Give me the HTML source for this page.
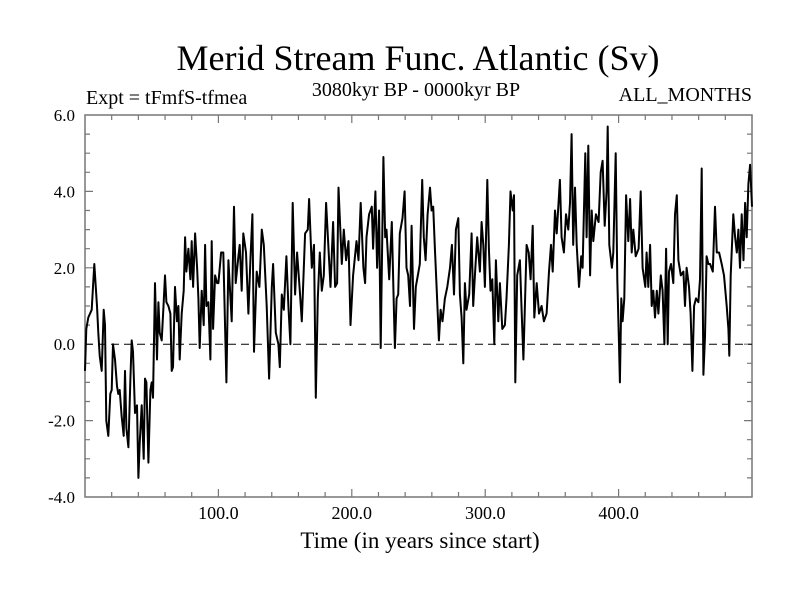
<!DOCTYPE html>
<html><head><meta charset="utf-8"><style>
body{margin:0;background:#fff}
svg{display:block;font-family:"Liberation Serif",serif}
</style></head><body>
<svg id="chart" width="800" height="600" viewBox="0 0 800 600">
<text x="418" y="70" font-size="36" text-anchor="middle">Merid Stream Func. Atlantic (Sv)</text>
<text x="86" y="104" font-size="20">Expt = tFmfS-tfmea</text>
<text x="416" y="96" font-size="20" text-anchor="middle">3080kyr BP - 0000kyr BP</text>
<text x="752" y="101" font-size="20" text-anchor="end">ALL_MONTHS</text>
<g id="axes"></g>
<g id="series"></g>
<text x="420" y="548" font-size="23" text-anchor="middle">Time (in years since start)</text>
</svg>
<script>
const years=[0,1,2.5,5,7,9,10,11,12.5,14,15,16,17.5,19,20,21,22.5,24,25,26,27.5,29,30,31,32.5,34,35,36,37.5,39,40,41,42.5,44,45,46,47.5,49,50,51,52.5,54,55,56,57.5,59,60,61,62.5,64,65,66,67.5,69,70,71,72.5,74,75,76,77.5,79,80,81,82.5,84,85,86,87.5,89,90,91,92.5,94,95,96,97.5,99,100,102,103.7,106,107.5,110,111.7,113,115,116,117.5,118.7,120.7,122.5,124,125.5,126.7,128.7,130.7,132.5,134,136.2,138,140,141,143,145,146,147.5,149,151,152.5,154,155.7,157.5,159,161,162.5,165,167,168,170,171.7,173,174.5,176,177.5,179,180.7,182.5,184,186,187.5,189,190,192.5,194,195.7,197.5,199,201,203.5,205,206.7,208.7,210,211,213,215,216,217.7,219,220.5,221.7,223.7,225,226,228,230,231.6,232.3,233.6,234.8,236,238,239.6,241,242.3,243.6,244.8,246.6,248,250,251,252.8,254,255.3,256.8,258.6,259.8,261,262.3,263.6,265.3,266.6,268,269.8,271.6,273.6,275,276.6,278,279.8,281,282.3,283.6,284.8,286,288,289.8,291,292.3,294,296,297.3,298.6,299.8,301.6,302.8,304,305.3,306.8,308,309.8,311,312.8,314.8,316,317.8,319,320.6,321.6,322.6,324,326,327.3,328.6,329.8,331,332.6,334,335.6,336.8,338.6,340.3,342.3,344,346,347.8,349.3,350.6,352.3,353.6,354.8,356,357.3,359,360.6,362.3,363.6,364.8,366,367.3,368.6,370.3,372,373,375,376,377.3,378.6,379.8,381,383,385,386.6,388,389.6,391,391.8,393,395,396,397.8,399,400.3,401,402,403,404.3,405.6,407.3,408.6,409.8,411,412.8,415,416.6,418,420,421,422.3,423.6,424.8,426,427.3,428.6,429.8,431.6,433,434.3,435.6,436.8,437.8,439.3,441,442.3,443.6,444.8,446.6,448.6,449.8,451,452.8,454,455.3,456.6,458,459.8,461,462.3,463.6,464.8,466,467.3,468.6,470.6,472.3,473.6,475.3,477.3,479,481,482.3,483,484,486,487.3,488.6,489.8,491,492.3,493.6,494.8,496,497.3,498.6,500];
const values=[-0.7,0.4,0.7,0.9,2.1,1.0,0.3,-0.3,-0.7,0.9,0.5,-2.0,-2.4,-1.3,-1.2,0.0,-0.4,-1.1,-1.3,-1.2,-1.9,-2.4,-0.7,-2.2,-2.7,-0.9,0.1,-0.2,-1.8,-1.6,-3.5,-2.6,-1.6,-3.0,-0.9,-1.0,-3.1,-1.2,-1.0,-1.4,1.6,-0.4,1.1,0.3,0.1,1.1,1.8,1.1,1.0,0.8,-0.7,-0.6,1.5,0.6,1.0,-0.4,0.8,1.4,2.8,1.9,2.5,1.7,2.7,1.5,2.9,2.0,1.2,-0.1,1.4,0.5,2.6,1.0,1.1,-0.4,2.7,0.4,1.8,1.6,1.6,2.4,2.4,-1.0,2.2,0.6,3.6,1.6,2.3,2.6,1.4,2.9,2.4,0.8,2.2,3.4,-0.2,1.9,1.5,3.0,2.6,1.0,-0.9,1.5,2.1,0.3,0.0,-0.6,1.3,0.9,2.3,1.0,0.0,3.7,1.3,2.4,1.4,0.6,2.9,3.0,3.8,2.0,2.6,-1.4,1.2,2.4,1.4,1.8,3.7,2.5,1.5,3.2,1.5,1.6,4.1,2.1,3.0,2.2,2.7,0.5,1.8,2.7,2.2,3.7,2.0,1.6,2.8,3.4,3.6,2.5,4.0,2.0,3.5,-0.1,4.9,2.8,3.0,1.7,3.2,0.8,-0.1,1.2,1.3,2.9,3.3,4.0,2.0,1.8,1.0,3.1,0.4,1.5,1.9,2.1,4.3,2.8,2.2,3.4,4.1,3.5,3.6,2.5,1.5,0.1,0.9,0.6,1.2,1.5,2.0,2.6,1.3,3.0,3.3,1.3,0.7,-0.5,1.6,0.9,1.3,2.9,1.0,1.8,2.8,1.9,3.2,2.6,1.5,4.3,2.5,1.4,1.7,0.0,2.2,0.6,1.6,0.4,0.5,1.2,2.6,4.0,3.5,3.9,-1.0,1.8,2.2,0.9,-0.4,1.1,2.6,2.4,1.7,3.1,0.7,1.6,0.8,1.0,0.6,0.8,1.9,2.6,1.9,3.5,2.9,3.6,4.3,2.8,2.4,3.4,3.0,3.7,5.5,2.6,4.1,2.6,1.5,2.3,2.0,5.0,2.8,5.2,1.8,3.5,2.7,3.4,3.2,4.5,4.8,3.1,4.0,5.7,2.6,2.0,2.4,5.0,1.7,0.0,-1.0,1.2,0.6,1.2,3.9,2.7,3.8,2.4,3.0,2.3,2.5,4.0,2.0,1.5,2.4,1.5,2.6,1.0,1.4,0.7,1.4,0.8,1.8,1.4,0.0,2.5,0.0,1.9,2.1,1.6,3.4,3.9,2.2,1.8,1.9,1.0,2.0,1.5,0.8,-0.7,1.0,1.2,1.1,1.7,4.6,-0.8,0.2,2.3,2.1,2.1,1.9,3.6,2.4,2.4,2.1,1.8,1.0,0.4,-0.3,1.8,3.4,2.8,2.4,3.0,2.0,3.4,2.2,3.7,2.8,4.2,4.7,3.6];
const xTicks=[100,200,300,400];
const xTickLabels=["100.0","200.0","300.0","400.0"];
const yTicks=[-4,-2,0,2,4,6];
const yTickLabels=["-4.0","-2.0","0.0","2.0","4.0","6.0"];

const L=85,R=752,T=115,B=497,X0=0,X1=500,Y0=-4,Y1=6;
const sx=v=>L+(v-X0)/(X1-X0)*(R-L);
const sy=v=>B-(v-Y0)/(Y1-Y0)*(B-T);
const NS='http://www.w3.org/2000/svg';
const axes=document.getElementById('axes'), series=document.getElementById('series');
function mk(tag,attrs,parent){const e=document.createElementNS(NS,tag);for(const k in attrs)e.setAttribute(k,attrs[k]);parent.appendChild(e);return e;}

const frame=mk('rect',{x:L,y:T,width:R-L,height:B-T,fill:'none',stroke:'#777','stroke-width':1.5},axes);



let d='';
for(let v=20;v<X1;v+=20){const maj=v%100===0;const len=maj?8:5;const x=sx(v);
 d+=`M${x},${B}v${-len}M${x},${T}v${len}`;}
for(let v=Y0+0.5;v<Y1;v+=0.5){const maj=Math.abs(v%2)<1e-6;const len=maj?8:5;const y=sy(v);
 d+=`M${L},${y}h${len}M${R},${y}h${-len}`;}
const ticks=mk('path',{d:d,stroke:'#777','stroke-width':1.2,fill:'none'},axes);



xTicks.forEach((v,i)=>{const t=mk('text',{x:sx(v),y:519,'font-size':18,'text-anchor':'middle'},axes);t.textContent=xTickLabels[i];
 
 });
yTicks.forEach((v,i)=>{const t=mk('text',{x:75,y:sy(v)+6,'font-size':17,'text-anchor':'end'},axes);t.textContent=yTickLabels[i];
 
 });

const zero=mk('line',{x1:L,x2:R,y1:sy(0),y2:sy(0),stroke:'#000','stroke-width':1,'stroke-dasharray':'8,5'},series);



const pts=years.map((yr,i)=>sx(yr).toFixed(1)+','+sy(values[i]).toFixed(1)).join(' ');
const line=mk('polyline',{points:pts,fill:'none',stroke:'#000','stroke-width':2,'stroke-linejoin':'round'},series);


</script>
</body></html>
